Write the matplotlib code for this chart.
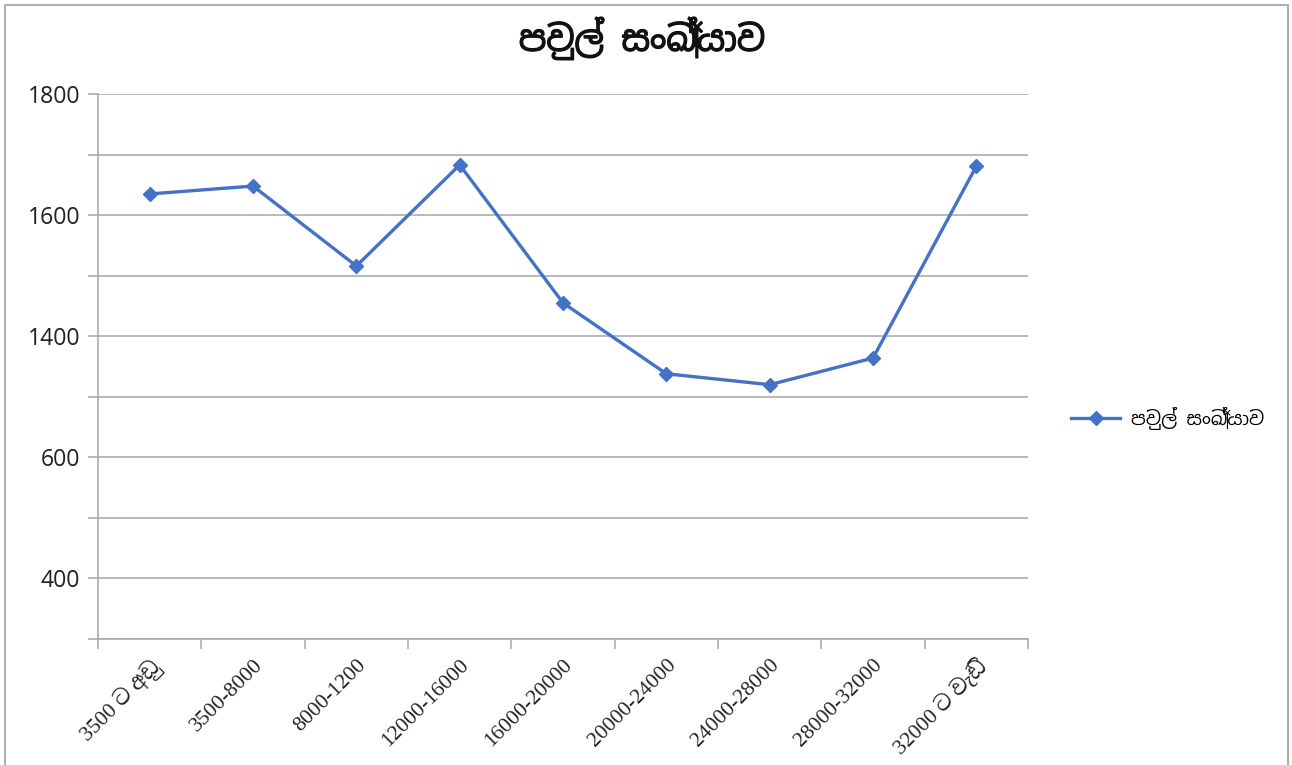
import matplotlib.pyplot as plt
import matplotlib.patches as mpatches
import matplotlib.patheffects as pe
from matplotlib.ticker import FixedLocator, FixedFormatter, MultipleLocator

# පවුල් සංඛ්‍යාව per income band
categories = ['3500 ට අඩු', '3500-8000', '8000-1200', '12000-16000', '16000-20000',
              '20000-24000', '24000-28000', '28000-32000', '32000 ට වැඩි']
family_counts = [1635, 1648, 1516, 1683, 1455, 1338, 1320, 1364, 1681]

y_tick_values = [1000, 1200, 1400, 1600, 1800]
y_tick_labels = ['400', '600', '1400', '1600', '1800']

title = 'පවුල් සංඛ්‍යාව'
series_name = 'පවුල් සංඛ්‍යාව'

sans_fonts = ['Noto Sans Sinhala', 'Noto Sans', 'DejaVu Sans']
serif_fonts = ['Liberation Serif', 'Noto Serif Sinhala', 'Noto Sans Sinhala', 'DejaVu Sans']
plt.rcParams['font.family'] = sans_fonts

fig = plt.figure(figsize=(12.92, 7.65), dpi=100)
ax = fig.add_axes([0.0759, 0.1647, 0.7198, 0.7124])

# outer chart frame
frame = mpatches.Rectangle((5 / 1292, -0.02), 1283 / 1292, 1.0 - 5 / 765 + 0.02,
                           transform=fig.transFigure, fill=False,
                           edgecolor='#b0b0b0', lw=1.5, zorder=-1)
fig.patches.append(frame)

x = list(range(len(categories)))
line, = ax.plot(x, family_counts, color='#4472C4', lw=2.4, marker='D',
                markersize=7, label=series_name, zorder=3)

ax.set_xlim(-0.5, len(categories) - 0.5)
ax.set_ylim(900, 1800)

# gridlines every 100, labels only on some of them
ax.yaxis.set_major_locator(FixedLocator(y_tick_values))
ax.yaxis.set_major_formatter(FixedFormatter(y_tick_labels))
ax.yaxis.set_minor_locator(MultipleLocator(100))
ax.grid(True, axis='y', which='both', color='#a6a6a6', lw=1.1)
ax.set_axisbelow(True)

ax.set_xticks([i - 0.5 for i in range(len(categories) + 1)], minor=True)
ax.set_xticks(x)
ax.set_xticklabels(categories, rotation=45, ha='right', rotation_mode='anchor',
                   fontsize=15.5, color='#222222', family=serif_fonts)
ax.tick_params(axis='x', which='major', length=0, pad=12)
ax.tick_params(axis='x', which='minor', length=7, color='#a6a6a6', width=1.1)
ax.tick_params(axis='y', which='both', length=7, color='#a6a6a6', width=1.1,
               labelsize=16.5, labelcolor='#222222', pad=6)

for side in ['top', 'right']:
    ax.spines[side].set_visible(False)
for side in ['left', 'bottom']:
    ax.spines[side].set_color('#a6a6a6')
    ax.spines[side].set_linewidth(1.1)

# the Sinhala face has no bold cut, so thicken the strokes
t = fig.suptitle(title, x=0.497, y=0.978, fontsize=25, color='#111111')
t.set_path_effects([pe.withStroke(linewidth=0.9, foreground='#111111')])

fig.legend(handles=[line], loc='center left', bbox_to_anchor=(0.816, 0.453),
           frameon=False, fontsize=13.5, handlelength=2.6, handletextpad=0.6)

fig.savefig('out.png', dpi=100)
